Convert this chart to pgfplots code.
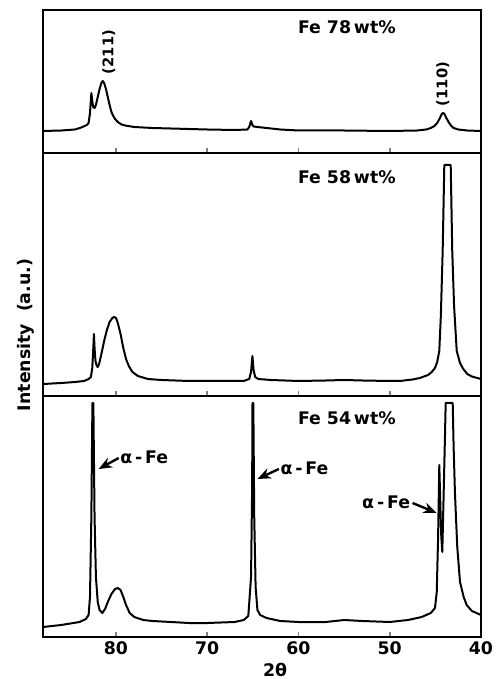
\documentclass[border=0pt]{standalone}
\usepackage{fontspec}
\setmainfont{DejaVu Sans}
\usepackage{pgfplots}
\pgfplotsset{compat=1.18}
\usetikzlibrary{arrows.meta}

\tikzset{
  lbl/.style={font=\bfseries\fontsize{13}{15}\selectfont},
  afe/.style={line width=1.8pt, -{Stealth[length=10pt,width=8pt]}},
  xrd/.style={black, mark=none, line width=1.5pt, line join=round},
}
\pgfplotsset{
  panel/.style={
    scale only axis, width=328.5pt,
    xmin=40, xmax=88, x dir=reverse, ymin=0,
    ytick=\empty, xtick={50,60,70,80}, xtick pos=left, tick align=inside,
    major tick length=4pt, major tick style={line width=1.2pt},
    axis line style={line width=1.6pt},
    /pgf/number format/assume math mode=true,
    tick label style={font=\bfseries\fontsize{13}{15}\selectfont},
    clip=false,
  },
}

\begin{document}
\begin{tikzpicture}
\useasboundingbox (-32.25pt,-31.5pt) rectangle (343.5pt,477.75pt);

% top panel: Fe 78 wt%
\begin{axis}[panel, at={(0,363pt)}, height=107.25pt, ymax=143, xticklabels={}]
\addplot[xrd] coordinates {(88,22) (86,22.5) (84.5,23.5) (83.8,25.5) (83.2,28) (83.0,30) (82.85,40) (82.7,60) (82.6,52) (82.5,46) (82.35,45) (82.2,48) (82.0,56) (81.8,64) (81.6,70) (81.45,72) (81.3,70) (81.1,64) (80.9,56) (80.7,48) (80.5,41) (80.3,37) (80.1,34) (79.8,31) (79.4,28.5) (79,27.5) (78,26) (76,25) (74,24.5) (70,23.5) (67,23) (65.6,23.5) (65.4,26) (65.2,32) (65.05,28) (64.9,26.5) (64.5,26) (63.5,25) (62,23.5) (60,22.5) (55,22.5) (50,22) (47,22.5) (46,23.5) (45.5,25) (45.1,27) (44.8,30) (44.5,35) (44.3,39) (44.15,40) (44.0,39) (43.8,35) (43.55,31) (43.3,27.5) (43.0,25) (42.5,23.5) (41.5,22.5) (40,22)};
\node[lbl] at (axis cs:54.7,126) {Fe 78\,wt\%};
\node[rotate=90, font=\bfseries\fontsize{11}{13}\selectfont] at (axis cs:80.8,101) {(211)};
\node[rotate=90, font=\bfseries\fontsize{11}{13}\selectfont] at (axis cs:44.2,69) {(110)};
\end{axis}

% middle panel: Fe 58 wt%
\begin{axis}[panel, at={(0,180.75pt)}, height=182.25pt, ymax=243, xticklabels={}]
\addplot[xrd] coordinates {(88,12) (86,13) (84.5,14) (83.5,15) (83.0,17) (82.75,19) (82.6,28) (82.5,45) (82.42,62) (82.35,48) (82.25,35) (82.1,30) (82.0,29) (81.85,32) (81.6,42) (81.3,55) (81.0,66) (80.7,74) (80.4,78) (80.2,79) (80.0,78) (79.8,73) (79.5,62) (79.2,48) (78.9,37) (78.6,30) (78.2,24) (77.6,20) (76.5,17) (75,16) (72,15) (68,15) (66,15) (65.4,17) (65.2,24) (65.05,40) (64.92,26) (64.75,19) (64.4,17) (63,16) (60,15) (57,15.5) (55,16) (53,15.5) (50,15) (48.9,15) (47.5,16.5) (46.7,18) (45.8,21) (45.4,24) (45.04,28) (44.8,34) (44.57,45) (44.4,80) (44.2,145) (44.02,231) (43.32,231) (43.15,145) (42.95,90) (42.66,45) (42.3,33) (41.94,27) (41.5,22) (41,19.5) (40,17)};
\node[lbl] at (axis cs:54.7,219) {Fe 58\,wt\%};
\end{axis}

% bottom panel: Fe 54 wt%
\begin{axis}[panel, at={(0,0)}, height=180.75pt, ymax=241, xtick={40,50,60,70,80}]
\addplot[xrd] coordinates {(88,10) (86,12) (84,15) (83.3,18) (83.0,22) (82.85,40) (82.7,120) (82.62,200) (82.58,234) (82.52,180) (82.48,234) (82.35,120) (82.2,60) (82.0,35) (81.8,27) (81.5,24) (81.2,28) (80.9,35) (80.5,43) (80.1,48) (79.8,49) (79.5,47) (79.2,40) (78.9,32) (78.5,24) (78,20) (77,17) (76,16) (74,15) (72,14) (70,14) (67,15) (66,17) (65.5,21) (65.2,60) (65.08,150) (65.04,234) (64.99,192) (64.95,234) (64.85,120) (64.7,50) (64.5,27) (64.2,22) (63.5,19) (62,16) (60,15) (57,15) (55,17) (53,16) (50,15) (48,17) (46.5,20) (45.5,24) (45.04,29) (44.85,45) (44.7,100) (44.57,172) (44.45,130) (44.35,100) (44.24,85) (44.1,140) (43.95,200) (43.87,234) (43.10,234) (43.0,190) (42.85,143) (42.6,90) (42.3,55) (41.9,40) (41.57,32) (41,26) (40,22)};
\node[lbl] at (axis cs:54.7,219) {Fe 54\,wt\%};
\node[lbl, anchor=west, inner sep=0pt] at (axis cs:79.55,180) {α\,-\,Fe};
\draw[afe] (axis cs:79.7,179) -- (axis cs:81.9,168);
\node[lbl, anchor=west, inner sep=0pt] at (axis cs:62.0,169) {α\,-\,Fe};
\draw[afe] (axis cs:62.15,168) -- (axis cs:64.5,158);
\node[lbl, anchor=east, inner sep=0pt] at (axis cs:47.75,135) {α\,-\,Fe};
\draw[afe] (axis cs:47.5,134) -- (axis cs:44.85,124);
\end{axis}

\node[font=\bfseries\fontsize{13}{15}\selectfont] at (174pt,-24.75pt) {2θ};
\node[lbl, rotate=90] at (-12.75pt,226.5pt) {Intensity\ \ (a.u.)};
\end{tikzpicture}
\end{document}
